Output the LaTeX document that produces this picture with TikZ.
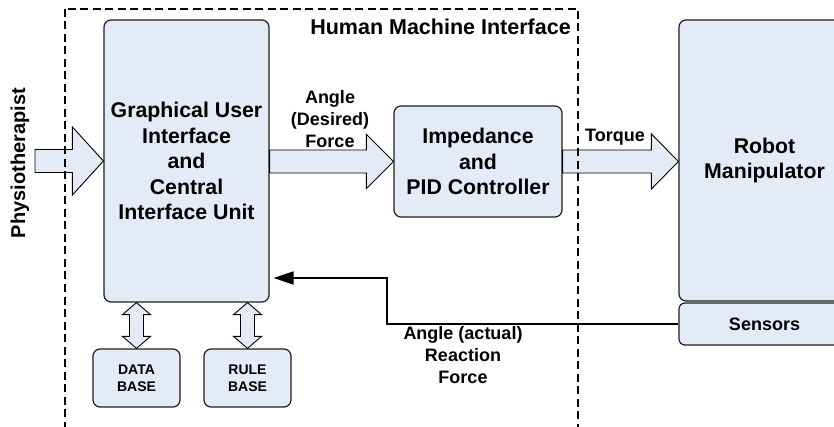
\documentclass[tikz,border=0pt]{standalone}
\usepackage{fontspec}
\setmainfont{Liberation Sans}
\usetikzlibrary{arrows.meta,calc}
\definecolor{boxfill}{HTML}{E4EBF6}
\definecolor{boxline}{HTML}{1E1E1E}
\newcommand{\fatarrow}[6][]{%
  \draw[fat,#1] let \p1=(#2), \p2=(#3) in
    (\x1,\y2+#6) -- (\x2-#4,\y2+#6) -- (\x2-#4,\y2+#5) -- (\x2,\y2)
    -- (\x2-#4,\y2-#5) -- (\x2-#4,\y2-#6) -- (\x1,\y2-#6) -- cycle;}
\newcommand{\dblarrow}[2]{%
  \draw[fat] let \p1=(#1), \p2=(#2) in
    (\x1,\y1) -- (\x1+14,\y1-12) -- (\x1+7,\y1-12) -- (\x1+7,\y2+12)
    -- (\x1+14,\y2+12) -- (\x1,\y2) -- (\x1-14,\y2+12) -- (\x1-7,\y2+12)
    -- (\x1-7,\y1-12) -- (\x1-14,\y1-12) -- cycle;}
\tikzset{
  blk/.style={draw=boxline, fill=boxfill, line width=1.2pt, rounded corners=7pt,
    align=center, inner sep=0pt, font=\bfseries\fontsize{21.3}{25.5}\selectfont},
  smallblk/.style={blk, font=\bfseries\fontsize{14}{17}\selectfont},
  lbl/.style={align=center, inner sep=0pt, font=\bfseries\fontsize{18}{22}\selectfont},
  fat/.style={draw=black, fill=boxfill, line width=0.9pt, line join=miter},
  fb/.style={draw=black, line width=2pt, -{Triangle[length=20pt,width=13pt]}},
  hmibox/.style={draw=black, line width=1.9pt, dash pattern=on 8pt off 4.5pt}
}
\begin{document}
\begin{tikzpicture}[x=1pt,y=-1pt]
\clip (0,0) rectangle (834,427);
\fill[white] (0,0) rectangle (834,427);

\node[blk, minimum width=165pt, minimum height=282pt] (gui) at (186.5,161)
  {Graphical User\\Interface\\and\\Central\\Interface Unit};
\node[blk, minimum width=168pt, minimum height=111pt] (imp) at (478,161.5)
  {Impedance\\and\\PID Controller};
\node[blk, minimum width=171pt, minimum height=281pt] (robot) at (764.5,160.5)
  {Robot\\Manipulator};
\node[blk, minimum width=171pt, minimum height=42pt, rounded corners=6pt,
  font=\bfseries\fontsize{18}{22}\selectfont] (sensors) at (764.5,324) {Sensors};
\node[smallblk, minimum width=87pt, minimum height=58pt] (db) at (136.5,378) {DATA\\BASE};
\node[smallblk, minimum width=87pt, minimum height=58pt] (rb) at (247.5,378) {RULE\\BASE};

\coordinate (pin) at (35,161);
\coordinate (fbk) at (387,278);

% fat arrows
\fatarrow{pin}{gui.west}{31}{34}{11.5}
\fatarrow{gui.east}{imp.west}{27}{27}{11.5}
\fatarrow{imp.east}{robot.west|-imp.east}{27}{27.5}{11.5}
\dblarrow{db.north|-gui.south}{db.north}
\dblarrow{rb.north|-gui.south}{rb.north}

% feedback
\draw[fb, shorten >=4pt] (sensors.west) -| (fbk) -- (fbk -| gui.east);

% labels
\node[lbl, rotate=90, anchor=base, font=\bfseries\fontsize{20}{24}\selectfont] (physio) at (25,163) {Physiotherapist};
\node[lbl] (des) at (330,119) {Angle\\(Desired)\\Force};
\node[lbl] (torque) at (615,137.5) {Torque};
\node[lbl] (act) at (463,355.5) {Angle (actual)\\Reaction\\Force};
\node[lbl, font=\bfseries\fontsize{21.5}{25}\selectfont] (hmi) at (440.5,27) {Human Machine Interface};

% human machine interface boundary
\draw[hmibox] (65,9) rectangle (578,445);
\end{tikzpicture}
\end{document}
